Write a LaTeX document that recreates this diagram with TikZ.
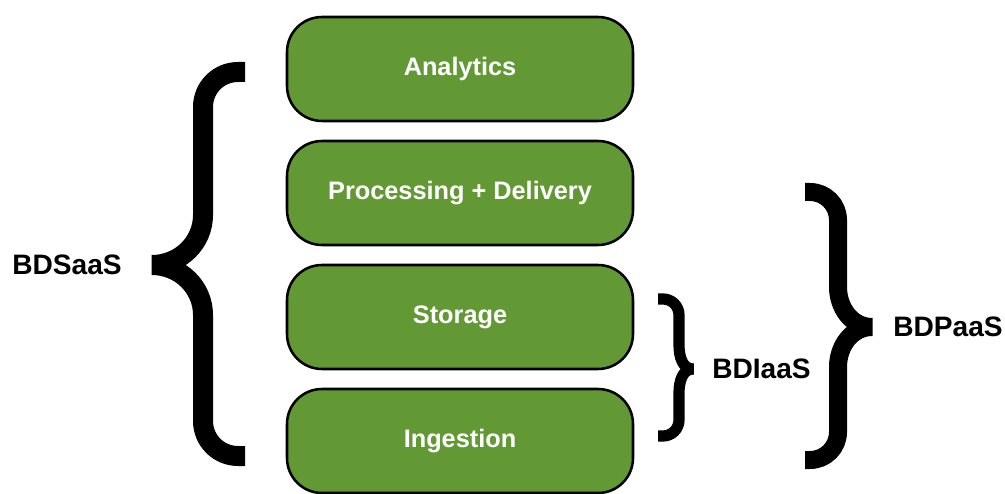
\documentclass[tikz,border=0pt]{standalone}
\usepackage{fontspec}
\setmainfont{Liberation Sans}
\usepackage{tikz}
\usetikzlibrary{positioning}
\definecolor{boxgreen}{RGB}{99,153,53}
\tikzstyle{layer} = [draw=black, line width=1.8pt, fill=boxgreen, rounded corners=0.875cm, minimum width=8.65cm, minimum height=2.6cm, text=white, font=\bfseries\fontsize{18}{20}\selectfont]
\tikzstyle{bracelabel} = [font=\bfseries\fontsize{20}{22}\selectfont, inner sep=0pt]
\tikzstyle{fatbrace} = [draw=black, line join=bevel]

\begin{document}
\begin{tikzpicture}[node distance=3.1cm]
\useasboundingbox (0,0) rectangle (25.125,12.325);

\node(analytics)[layer] at (11.5,10.6) {Analytics};
\node(processing)[layer, below of=analytics]{Processing + Delivery};
\node(storage)[layer, below of=processing]{Storage};
\node(ingestion)[layer, below of=storage]{Ingestion};

% brace tips
\coordinate (stip) at (3.8,5.7);
\coordinate (itip) at (17.325,3.1);
\coordinate (ptip) at (21.8,4.15);

% left brace
\draw [fatbrace, line width=0.5cm] (6.125,10.525) -- (5.95,10.525) to[out=180,in=90] (5.075,9.65) -- (5.075,6.95) to[out=-90,in=0] (stip) to[out=0,in=90] (5.075,4.45) -- (5.075,1.8) to[out=-90,in=180] (5.95,0.925) -- (6.125,0.925);
% small right brace
\draw [fatbrace, line width=0.28cm] (16.45,4.85) -- (16.575,4.85) to[out=0,in=90] (16.975,4.45) -- (16.975,3.7) to[out=-90,in=180] (itip) to[out=180,in=90] (16.975,2.5) -- (16.975,1.825) to[out=-90,in=0] (16.575,1.425) -- (16.45,1.425);
% big right brace
\draw [fatbrace, line width=0.45cm] (20.125,7.525) -- (20.25,7.525) to[out=0,in=90] (20.95,6.825) -- (20.95,5.15) to[out=-90,in=180] (ptip) to[out=180,in=90] (20.95,3.15) -- (20.95,1.525) to[out=-90,in=0] (20.25,0.825) -- (20.125,0.825);

\node(saas)[bracelabel, left=0.75cm of stip]{BDSaaS};
\node(iaas)[bracelabel, right=0.475cm of itip]{BDIaaS};
\node(paas)[bracelabel, right=0.525cm of ptip]{BDPaaS};

\end{tikzpicture}
\end{document}
